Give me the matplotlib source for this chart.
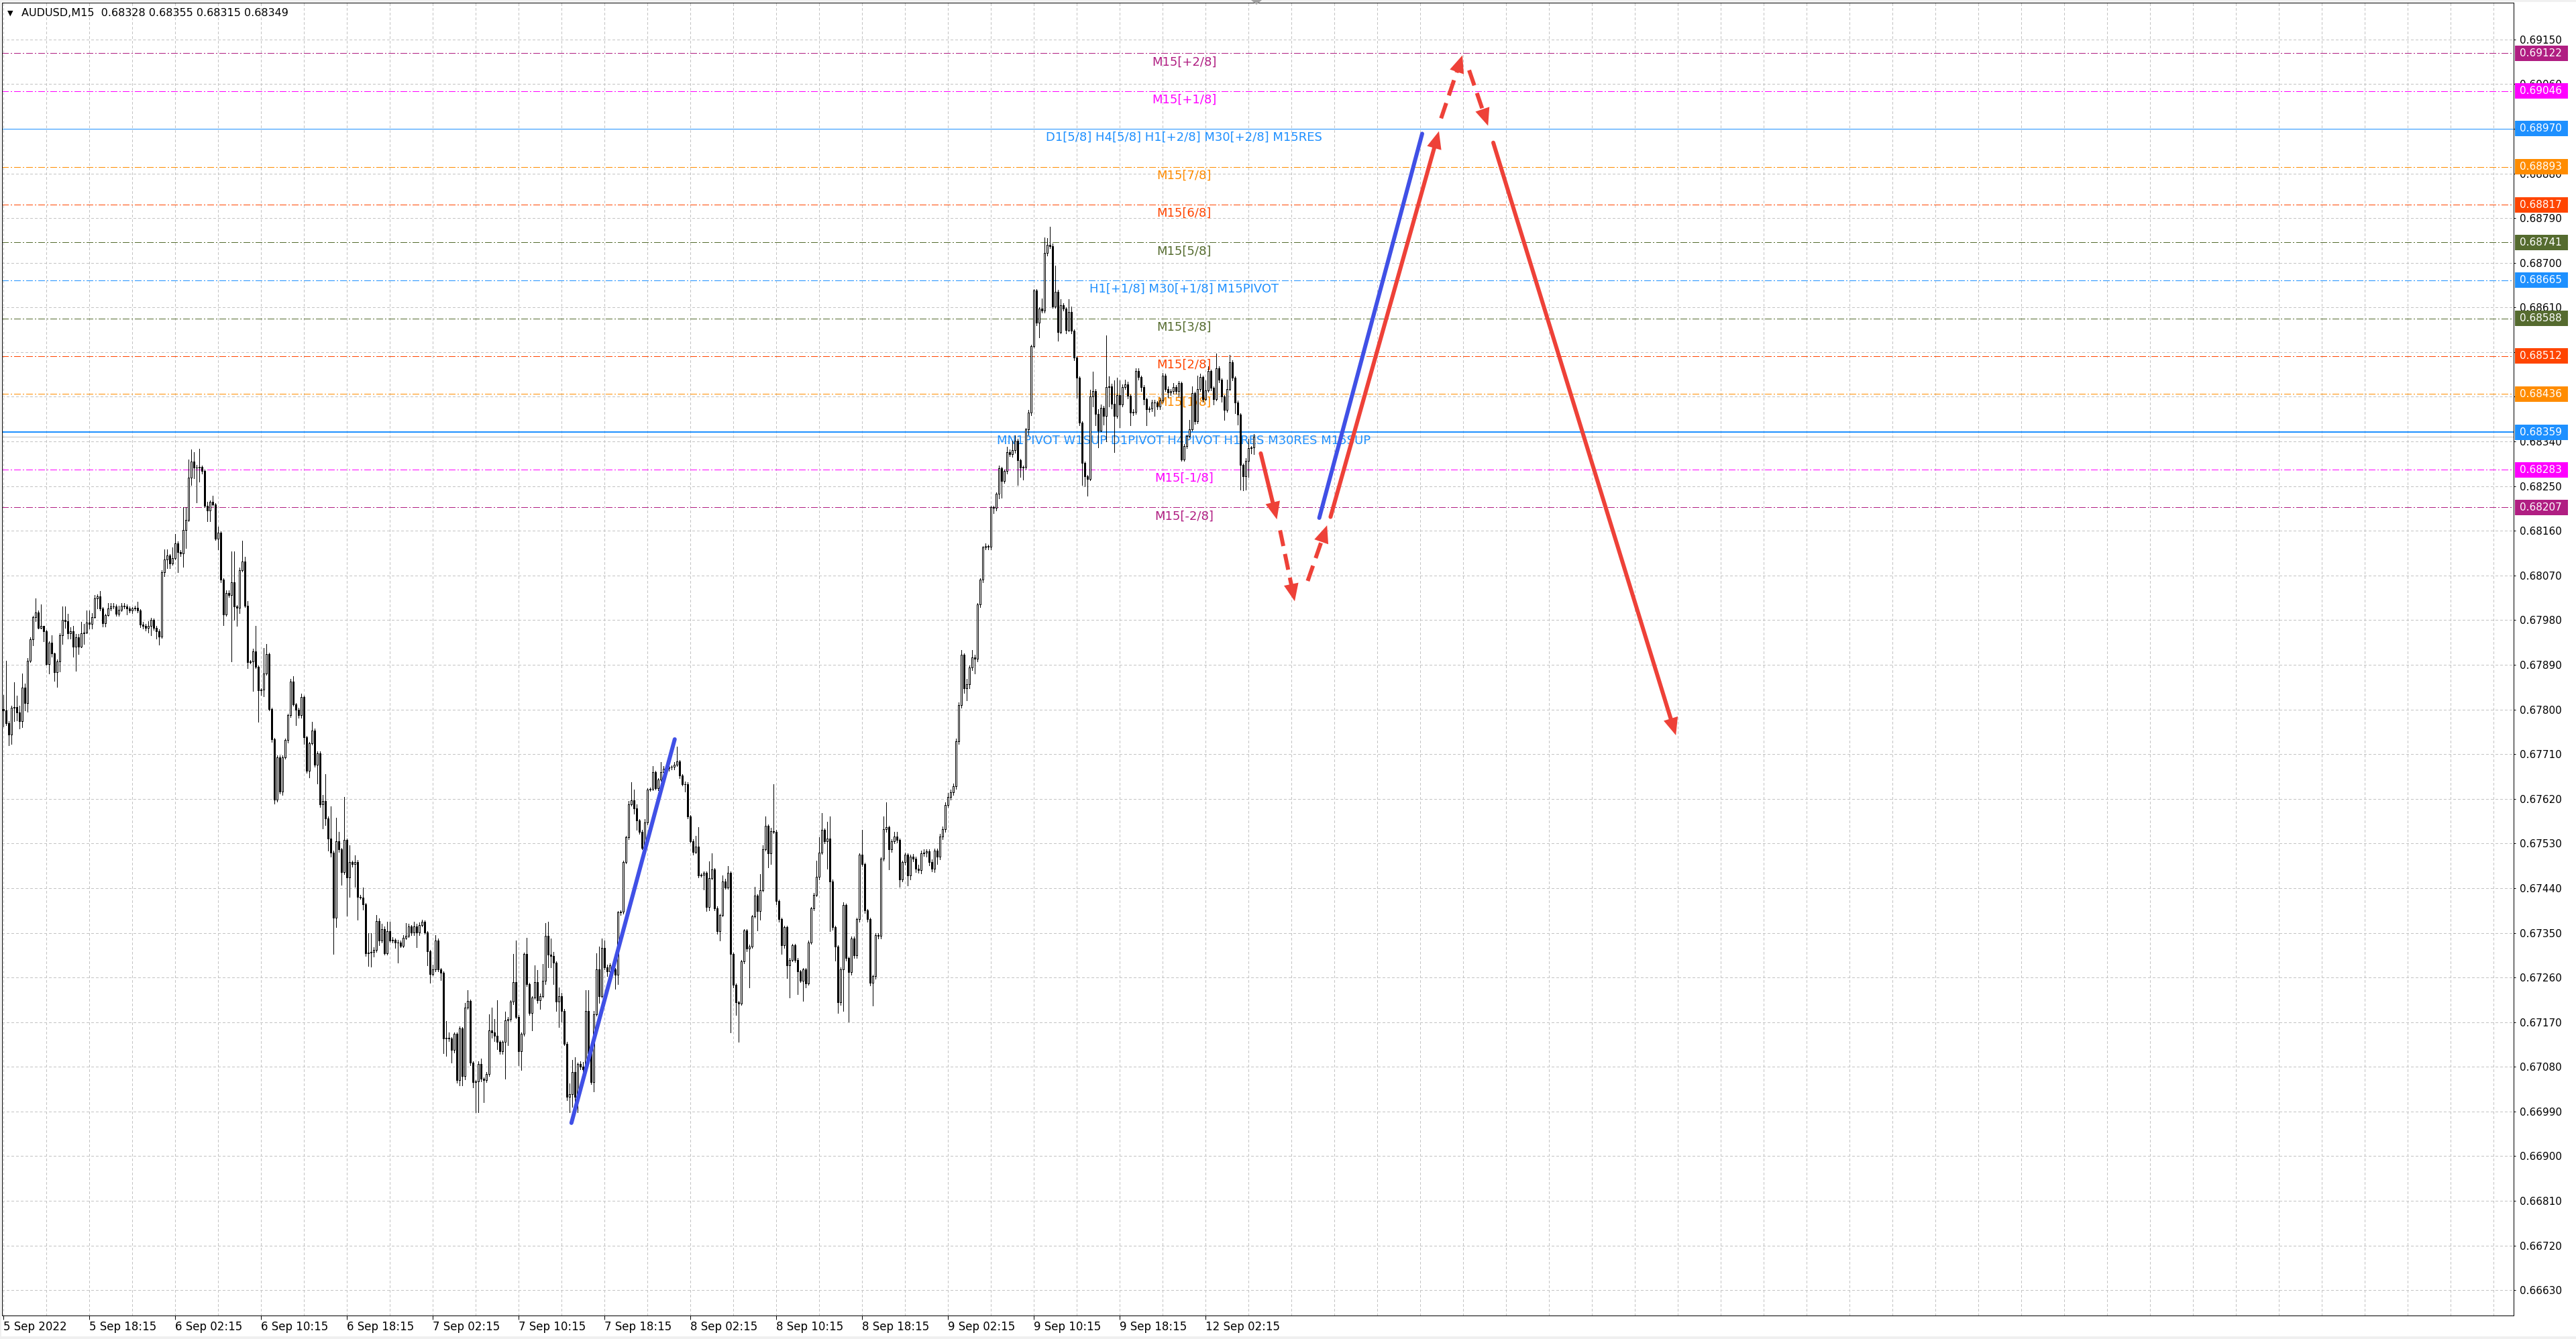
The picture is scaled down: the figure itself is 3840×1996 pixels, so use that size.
import numpy as np
import matplotlib
matplotlib.use("Agg")
import matplotlib.pyplot as plt
from matplotlib.lines import Line2D
from matplotlib.patches import Polygon, Rectangle
from matplotlib.transforms import IdentityTransform

plt.rcParams["font.family"] = ["DejaVu Sans"]

W, H, DPI = 3840, 1996, 100
PX = 72 / DPI  # points per pixel

# ---- data -------------------------------------------------------------
title_symbol = "AUDUSD,M15  0.68328 0.68355 0.68315 0.68349"

# M15 closes in points (1e-5), open of the first bar, wicks in points
first_open = 67801
close_pts = [
    67798, 67772, 67749, 67803, 67805, 67794, 67777, 67844, 67813, 67898, 67942, 67986, 67995, 67964, 67968, 67958, 67892, 67934, 67913, 67875,
    67897, 67950, 67981, 67978, 67953, 67958, 67926, 67946, 67927, 67954, 67955, 67975, 67973, 67986, 68024, 68028, 68004, 67974, 67990, 68004,
    68007, 68008, 67993, 68001, 68009, 68008, 68003, 68000, 68003, 68005, 68000, 67971, 67969, 67965, 67968, 67980, 67965, 67958, 67947, 68076,
    68102, 68110, 68094, 68105, 68134, 68117, 68114, 68162, 68182, 68267, 68299, 68288, 68287, 68289, 68280, 68210, 68201, 68218, 68213, 68144,
    68156, 68061, 67991, 68035, 68031, 68056, 68007, 68005, 68081, 68098, 68009, 67896, 67897, 67917, 67886, 67839, 67840, 67873, 67911, 67801,
    67740, 67619, 67704, 67635, 67704, 67738, 67788, 67856, 67810, 67800, 67788, 67825, 67744, 67676, 67732, 67758, 67688, 67712, 67609, 67616,
    67581, 67540, 67512, 67381, 67535, 67518, 67472, 67537, 67462, 67493, 67488, 67492, 67423, 67421, 67407, 67309, 67310, 67312, 67316, 67374,
    67335, 67358, 67309, 67353, 67335, 67336, 67330, 67331, 67324, 67340, 67344, 67363, 67351, 67363, 67351, 67366, 67372, 67351, 67313, 67267,
    67276, 67335, 67276, 67270, 67137, 67139, 67137, 67114, 67146, 67053, 67157, 67062, 67200, 67213, 67088, 67049, 67051, 67086, 67056, 67053,
    67065, 67153, 67149, 67142, 67130, 67111, 67130, 67174, 67176, 67211, 67251, 67181, 67111, 67146, 67307, 67246, 67189, 67220, 67251, 67214,
    67223, 67254, 67344, 67306, 67304, 67290, 67212, 67223, 67193, 67127, 67019, 67025, 67069, 67019, 67086, 67080, 67075, 67193, 67108, 67050,
    67186, 67276, 67223, 67320, 67281, 67273, 67284, 67276, 67265, 67391, 67392, 67493, 67542, 67609, 67617, 67601, 67576, 67554, 67521, 67572,
    67639, 67640, 67674, 67642, 67659, 67674, 67681, 67682, 67684, 67684, 67689, 67695, 67667, 67650, 67650, 67584, 67535, 67513, 67524, 67466,
    67467, 67471, 67402, 67460, 67478, 67400, 67353, 67386, 67454, 67441, 67471, 67307, 67245, 67210, 67208, 67292, 67355, 67318, 67323, 67383,
    67425, 67394, 67436, 67519, 67566, 67510, 67555, 67554, 67414, 67378, 67325, 67361, 67284, 67296, 67325, 67296, 67272, 67254, 67276, 67248,
    67331, 67399, 67427, 67463, 67512, 67557, 67535, 67540, 67454, 67361, 67322, 67210, 67277, 67406, 67299, 67271, 67339, 67305, 67378, 67507,
    67488, 67395, 67378, 67249, 67263, 67346, 67344, 67499, 67559, 67563, 67518, 67535, 67544, 67537, 67458, 67492, 67507, 67465, 67503, 67499,
    67479, 67476, 67510, 67512, 67514, 67492, 67479, 67515, 67503, 67544, 67559, 67608, 67624, 67633, 67645, 67736, 67809, 67910, 67843, 67851,
    67884, 67905, 67902, 68011, 68061, 68126, 68129, 68128, 68207, 68206, 68235, 68286, 68261, 68280, 68319, 68314, 68322, 68342, 68302, 68288,
    68289, 68364, 68398, 68532, 68644, 68579, 68608, 68603, 68720, 68736, 68734, 68612, 68642, 68561, 68615, 68608, 68565, 68601, 68563, 68509,
    68468, 68378, 68297, 68270, 68265, 68430, 68441, 68396, 68362, 68407, 68392, 68450, 68451, 68416, 68392, 68434, 68414, 68450, 68455, 68432,
    68398, 68400, 68482, 68470, 68450, 68425, 68405, 68406, 68419, 68418, 68410, 68423, 68473, 68446, 68439, 68441, 68450, 68441, 68457, 68304,
    68331, 68351, 68365, 68437, 68380, 68446, 68470, 68425, 68443, 68482, 68448, 68425, 68488, 68464, 68430, 68403, 68446, 68500, 68468, 68419,
    68394, 68293, 68270, 68301, 68326, 68328, 68349,
]
wick_up = [
    28, 100, 5, 5, 50, 23, 14, 28, 8, 5, 3, 3, 29, 5, 44, 0, 2, 3, 16, 2,
    4, 3, 26, 26, 15, 8, 10, 6, 6, 22, 18, 25, 24, 8, 6, 4, 11, 2, 3, 10,
    8, 6, 3, 8, 5, 6, 3, 4, 3, 4, 12, 2, 5, 3, 10, 4, 3, 3, 3, 5,
    21, 13, 3, 21, 20, 5, 4, 45, 26, 36, 25, 19, 5, 36, 3, 3, 8, 3, 13, 3,
    13, 3, 3, 5, 5, 62, 62, 3, 5, 42, 9, 10, 3, 5, 52, 3, 3, 51, 21, 3,
    3, 3, 3, 3, 3, 4, 3, 5, 11, 3, 3, 7, 3, 3, 3, 17, 3, 3, 3, 12,
    54, 3, 65, 3, 47, 19, 3, 87, 3, 33, 3, 14, 5, 3, 20, 3, 40, 37, 5, 12,
    5, 10, 5, 19, 19, 5, 3, 5, 3, 5, 25, 5, 3, 10, 5, 5, 5, 3, 3, 3,
    10, 10, 3, 3, 3, 33, 10, 3, 3, 3, 5, 3, 9, 22, 3, 3, 3, 5, 11, 3,
    5, 33, 47, 28, 72, 3, 3, 17, 5, 3, 56, 84, 3, 3, 3, 33, 3, 3, 33, 24,
    5, 33, 26, 28, 33, 7, 3, 17, 6, 3, 3, 22, 25, 30, 3, 5, 10, 41, 41, 3,
    7, 33, 47, 19, 14, 5, 5, 5, 3, 3, 3, 3, 3, 6, 37, 22, 8, 3, 3, 7,
    3, 3, 12, 3, 3, 20, 5, 5, 5, 3, 5, 30, 3, 3, 5, 3, 3, 3, 22, 39,
    3, 3, 3, 34, 32, 3, 3, 3, 12, 5, 14, 3, 3, 3, 3, 3, 3, 3, 3, 3,
    17, 3, 33, 7, 18, 3, 7, 94, 3, 3, 3, 3, 3, 3, 3, 3, 3, 3, 3, 3,
    3, 3, 3, 33, 30, 34, 3, 34, 45, 3, 3, 3, 3, 6, 3, 3, 3, 3, 3, 3,
    50, 3, 3, 3, 3, 3, 3, 3, 26, 50, 3, 3, 10, 10, 3, 3, 5, 3, 5, 6,
    5, 8, 5, 7, 5, 5, 6, 5, 5, 6, 5, 5, 8, 5, 6, 5, 5, 10, 3, 10,
    5, 15, 5, 3, 3, 3, 5, 3, 3, 3, 3, 5, 3, 3, 10, 5, 20, 10, 3, 3,
    3, 3, 5, 3, 3, 3, 3, 20, 31, 14, 37, 5, 52, 3, 11, 3, 3, 25, 11, 3,
    3, 3, 3, 3, 3, 14, 40, 5, 9, 7, 5, 104, 20, 5, 47, 34, 29, 5, 10, 5,
    3, 5, 5, 5, 3, 3, 3, 5, 5, 5, 3, 5, 5, 3, 5, 5, 7, 3, 5, 3,
    3, 3, 18, 14, 3, 27, 7, 3, 20, 9, 3, 3, 29, 3, 3, 3, 18, 14, 3, 3,
    3, 3, 3, 5, 20, 3, 6,
]
wick_dn = [
    33, 3, 21, 18, 26, 16, 15, 13, 15, 18, 3, 13, 8, 1, 1, 21, 2, 19, 7, 18,
    30, 20, 18, 13, 10, 10, 20, 48, 15, 2, 22, 2, 10, 10, 2, 20, 5, 7, 7, 1,
    5, 4, 5, 4, 3, 4, 12, 5, 6, 4, 4, 5, 6, 6, 10, 19, 5, 15, 17, 3,
    8, 18, 10, 3, 3, 41, 5, 27, 37, 3, 15, 22, 70, 28, 5, 3, 22, 22, 3, 3,
    21, 5, 21, 2, 5, 134, 26, 37, 11, 3, 3, 13, 3, 60, 3, 64, 10, 14, 3, 3,
    5, 9, 5, 5, 7, 3, 5, 3, 3, 31, 5, 5, 14, 3, 13, 3, 3, 37, 5, 49,
    14, 25, 9, 73, 19, 5, 25, 3, 78, 39, 5, 46, 47, 3, 10, 5, 26, 28, 10, 5,
    10, 5, 3, 3, 3, 5, 10, 40, 3, 3, 3, 3, 5, 5, 30, 5, 3, 3, 28, 18,
    3, 3, 3, 15, 30, 35, 5, 26, 5, 5, 11, 20, 7, 3, 5, 10, 61, 62, 5, 44,
    3, 3, 10, 10, 15, 5, 5, 74, 50, 3, 5, 3, 28, 37, 3, 3, 5, 36, 3, 5,
    17, 3, 8, 25, 23, 44, 19, 52, 22, 3, 6, 30, 25, 19, 30, 5, 5, 3, 5, 5,
    19, 3, 14, 3, 5, 10, 3, 5, 28, 19, 5, 3, 3, 3, 3, 11, 19, 5, 3, 3,
    3, 3, 3, 3, 5, 3, 5, 10, 5, 5, 5, 3, 5, 3, 15, 3, 3, 5, 3, 5,
    3, 30, 8, 7, 3, 5, 5, 19, 3, 3, 3, 158, 5, 25, 78, 3, 3, 5, 78, 3,
    3, 39, 17, 3, 3, 28, 22, 3, 6, 5, 17, 5, 25, 64, 3, 5, 46, 3, 41, 8,
    3, 3, 3, 3, 5, 3, 5, 56, 100, 5, 28, 22, 5, 84, 5, 100, 5, 5, 5, 5,
    3, 5, 5, 5, 45, 5, 5, 5, 3, 5, 40, 5, 5, 5, 15, 5, 5, 20, 8, 5,
    7, 5, 6, 5, 8, 6, 5, 7, 15, 5, 5, 5, 5, 6, 5, 5, 5, 5, 10, 25,
    8, 5, 30, 5, 5, 5, 3, 5, 5, 10, 5, 10, 35, 5, 5, 3, 5, 5, 50, 20,
    25, 5, 10, 5, 3, 5, 30, 3, 3, 5, 5, 3, 3, 18, 3, 5, 7, 3, 5, 5,
    40, 5, 45, 20, 34, 3, 20, 23, 34, 2, 18, 52, 40, 10, 74, 5, 45, 3, 5, 5,
    25, 5, 5, 5, 8, 10, 32, 5, 5, 27, 5, 5, 5, 5, 10, 5, 5, 5, 10, 3,
    3, 5, 3, 3, 5, 3, 5, 5, 3, 3, 5, 10, 3, 5, 10, 20, 3, 3, 5, 22,
    20, 50, 29, 27, 32, 10, 13,
]

time_labels = ["5 Sep 2022", "5 Sep 18:15", "6 Sep 02:15", "6 Sep 10:15", "6 Sep 18:15",
               "7 Sep 02:15", "7 Sep 10:15", "7 Sep 18:15", "8 Sep 02:15", "8 Sep 10:15",
               "8 Sep 18:15", "9 Sep 02:15", "9 Sep 10:15", "9 Sep 18:15", "12 Sep 02:15"]

price_ticks = [0.66630, 0.66720, 0.66810, 0.66900, 0.66990, 0.67080, 0.67170, 0.67260,
               0.67350, 0.67440, 0.67530, 0.67620, 0.67710, 0.67800, 0.67890, 0.67980,
               0.68070, 0.68160, 0.68250, 0.68340, 0.68430, 0.68520, 0.68610, 0.68700,
               0.68790, 0.68880, 0.68970, 0.69060, 0.69150]

levels = [0.69122, 0.69046, 0.68970, 0.68893, 0.68817, 0.68741, 0.68665,
          0.68588, 0.68512, 0.68436, 0.68359, 0.68283, 0.68207]
level_names = ["M15[+2/8]", "M15[+1/8]", "D1[5/8] H4[5/8] H1[+2/8] M30[+2/8] M15RES",
               "M15[7/8]", "M15[6/8]", "M15[5/8]", "H1[+1/8] M30[+1/8] M15PIVOT",
               "M15[3/8]", "M15[2/8]", "M15[1/8]",
               "MN1PIVOT W1SUP D1PIVOT H4PIVOT H1RES M30RES M15SUP",
               "M15[-1/8]", "M15[-2/8]"]
bid_price = 0.68349

# forecast drawing (bar index, price)
trend_x0 = [211.7, 490.4]
trend_p0 = [0.66967, 0.68186]
trend_x1 = [250.2, 528.75]
trend_p1 = [0.67740, 0.68960]

arrow_x0 = [468.6, 475.8, 486.1, 494.6, 535.8, 546.25, 555.25]
arrow_p0 = [0.68316, 0.68161, 0.68059, 0.68188, 0.68991, 0.69088, 0.68942]
arrow_x1 = [474.6, 481.25, 493.3, 535.0, 543.75, 553.3, 623.3]
arrow_p1 = [0.68183, 0.68018, 0.68171, 0.68965, 0.69118, 0.68976, 0.67748]
arrow_dashed = [False, True, True, False, True, True, False]

# ---- styles -----------------------------------------------------------
PURPLE, MAGENTA, BLUE = "#B01E82", "#FF00FF", "#1E90FF"
ORANGE, ORANGERED, OLIVE = "#FF8C00", "#FF4500", "#556B2F"
level_colors = [PURPLE, MAGENTA, BLUE, ORANGE, ORANGERED, OLIVE, BLUE,
                OLIVE, ORANGERED, ORANGE, BLUE, MAGENTA, PURPLE]
level_solid = [False, False, True, False, False, False, False,
               False, False, False, True, False, False]
level_width_px = [1, 1, 1, 1, 1, 1, 1, 1, 1, 1, 2, 1, 1]
RED = "#EE4138"
TBLUE = "#4050E6"
GRID = "#C3C3C3"

# ---- build candles ----------------------------------------------------
closes = np.array(close_pts) / 1e5
opens = np.concatenate([[first_open / 1e5], closes[:-1]])
highs = np.maximum(opens, closes) + np.array(wick_up) / 1e5
lows = np.minimum(opens, closes) - np.array(wick_dn) / 1e5
bars = np.arange(len(closes))

fig = plt.figure(figsize=(W / DPI, H / DPI), dpi=DPI, facecolor="white")
ax = fig.add_axes([3 / W, 35 / H, 3744 / W, 1957 / H])
ax.set_facecolor("white")
ax.set_xlim(-0.5, 935.5)
ax.set_ylim(0.66579, 0.69224)

for s in ax.spines.values():
    s.set_color("black")
    s.set_linewidth(1 * PX)

# grid
ax.set_yticks(price_ticks)
ax.set_yticklabels([f"{v:.5f}" for v in price_ticks])
ax.yaxis.tick_right()
ax.tick_params(axis="y", which="both", length=3 * PX, width=1 * PX, pad=6 * PX,
               labelsize=11, colors="black", direction="out")
ax.set_xticks(bars[::32][:len(time_labels)])
ax.set_xticklabels(time_labels)
for lbl in ax.get_xticklabels():
    lbl.set_horizontalalignment("left")
ax.set_xticks(np.arange(16, 936, 16), minor=True)
ax.tick_params(axis="x", which="major", length=6 * PX, width=1 * PX, pad=2 * PX,
               labelsize=12, colors="black")
ax.tick_params(axis="x", which="minor", length=0)
ax.grid(True, axis="x", which="both", color=GRID, lw=1 * PX, ls=(0, (4, 3)),
        zorder=0, antialiased=False)
ax.grid(True, axis="y", which="major", color=GRID, lw=1 * PX, ls=(0, (4, 3)),
        zorder=0, antialiased=False)
ax.set_axisbelow(True)

# levels
for lvl, name, col, solid, wpx in zip(levels, level_names, level_colors, level_solid, level_width_px):
    ax.axhline(lvl, color=col, lw=wpx * PX, ls="-" if solid else (0, (10, 3, 2, 3)),
               zorder=1, antialiased=False)
    ax.annotate(name, xy=(440, lvl), xytext=(0, -4), textcoords="offset pixels",
                ha="center", va="top", fontsize=13, color=col, zorder=1.5)
ax.axhline(bid_price, color="#C0C0C0", lw=1 * PX, zorder=1, antialiased=False)

# candles
ax.vlines(bars, lows, highs, colors="black", lw=1 * PX, zorder=2, antialiased=False)
up = closes >= opens
body_h = closes - opens
ax.bar(bars[up], body_h[up], bottom=opens[up], width=0.55, color="white",
       edgecolor="black", lw=1 * PX, zorder=3, antialiased=False)
ax.bar(bars[~up], body_h[~up], bottom=opens[~up], width=0.55, color="black",
       edgecolor="black", lw=1 * PX, zorder=3, antialiased=False)

# forecast lines and arrows (drawn in pixel space for fixed head size)
to_px = ax.transData.transform
LW = 6 * PX
HEAD_L, HEAD_W = 26, 11

for x0, p0, x1, p1 in zip(trend_x0, trend_p0, trend_x1, trend_p1):
    ax.plot([x0, x1], [p0, p1], color=TBLUE, lw=LW, solid_capstyle="round", zorder=4)

for x0, p0, x1, p1, dashed in zip(arrow_x0, arrow_p0, arrow_x1, arrow_p1, arrow_dashed):
    a = to_px((x0, p0))
    b = to_px((x1, p1))
    d = b - a
    u = d / np.hypot(*d)
    n = np.array([-u[1], u[0]])
    end = b - u * HEAD_L * 0.85
    line = Line2D([a[0], end[0]], [a[1], end[1]], transform=IdentityTransform(),
                  color=RED, lw=LW, solid_capstyle="round", dash_capstyle="butt",
                  ls=(0, (4, 2)) if dashed else "-", zorder=5)
    ax.add_artist(line)
    base = b - u * HEAD_L
    head = Polygon([b, base + n * HEAD_W, base - n * HEAD_W], closed=True,
                   transform=IdentityTransform(), fc=RED, ec=RED, lw=0, zorder=5)
    ax.add_artist(head)

# price boxes on the right scale
for lvl, col in zip(levels, level_colors):
    yp = to_px((0, lvl))[1]
    fig.add_artist(Rectangle((3749, yp - 11.5), 79, 23, transform=IdentityTransform(),
                             fc=col, ec="none", zorder=10))
    fig.text(3756 / W, yp / H, f"{lvl:.5f}", color="white", fontsize=11,
             ha="left", va="center", zorder=11)

# window chrome
fig.add_artist(Rectangle((0, H - 3), W, 3, transform=IdentityTransform(), fc="#F0F0F0", ec="none"))
fig.add_artist(Rectangle((0, 0), W, 4, transform=IdentityTransform(), fc="#F0F0F0", ec="none"))
fig.add_artist(Rectangle((0, 0), 2, H, transform=IdentityTransform(), fc="#F0F0F0", ec="none"))
fig.add_artist(Polygon([(1865, H), (1881, H), (1873, H - 7)], closed=True,
                       transform=IdentityTransform(), fc="#A0A0A0", ec="none"))

fig.text(11 / W, 1 - 20 / H, "▼", fontsize=8, ha="left", va="center", color="black")
fig.text(32 / W, 1 - 20 / H, title_symbol, fontsize=11.5, ha="left", va="center", color="black")

fig.savefig("out.png", dpi=DPI, facecolor="white")
